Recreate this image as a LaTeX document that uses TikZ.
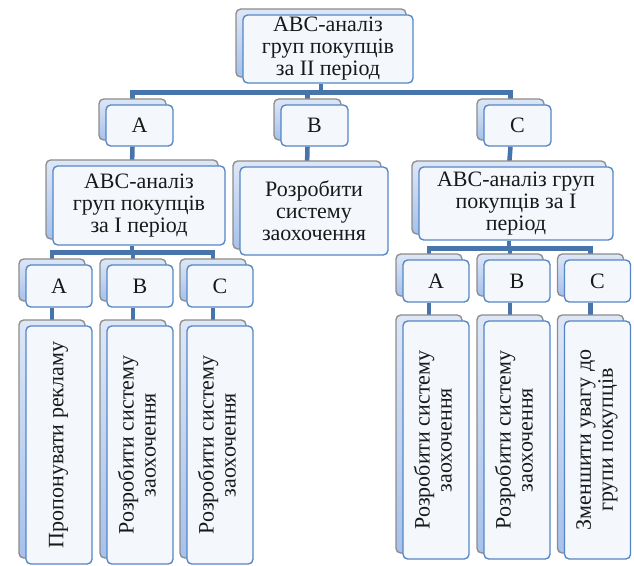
\documentclass[tikz,border=0pt]{standalone}
\usepackage{fontspec}
\setmainfont{Liberation Serif}
\usepackage{graphicx}
\usetikzlibrary{shadows,backgrounds}
\definecolor{conncol}{RGB}{72,116,172}
\definecolor{frontline}{RGB}{84,134,198}
\definecolor{frontfill}{RGB}{244,247,252}
\definecolor{backline}{RGB}{140,140,140}
\definecolor{backtop}{RGB}{222,231,246}
\definecolor{backbot}{RGB}{166,193,236}
\tikzset{
  box/.style={draw=frontline, line width=1pt, rounded corners=3.5pt, fill=frontfill,
    align=center, inner sep=0.5pt, text=black!90,
    font=\fontsize{16.5}{16.5}\selectfont,
    general shadow={shadow xshift=-5.25pt, shadow yshift=4.5pt, draw=backline,
      line width=1pt, top color=backtop, bottom color=backbot}},
  conn/.style={draw=conncol, line width=3.4pt}
}
\newcommand{\vtext}[1]{\rotatebox{90}{\begin{tabular}{@{}c@{}}#1\end{tabular}}}
\begin{document}
\begin{tikzpicture}[x=0.75pt,y=-0.75pt]
\useasboundingbox (0,0) rectangle (634,566);
% level 1
\node[box, minimum width=127.5pt, minimum height=51pt] (top) at (328,49) {АВС-аналіз\\груп покупців\\за II період};
% level 2
\node[box, minimum width=50.25pt, minimum height=30.75pt] (A2) at (139.5,125.5) {A};
\node[box, minimum width=50.25pt, minimum height=30.75pt] (B2) at (314.5,125.5) {B};
\node[box, minimum width=50.25pt, minimum height=30.75pt] (C2) at (517.5,125.5) {C};
% level 3
\node[box, minimum width=129pt, minimum height=59.25pt] (L) at (139,205.5) {АВС-аналіз\\груп покупців\\за I період};
\node[box, minimum width=111pt, minimum height=66pt] (BB) at (314,211) {Розробити\\систему\\заохочення};
\node[box, minimum width=145.5pt, minimum height=54.75pt] (R) at (516,203.5) {АВС-аналіз груп\\покупців за I\\період};
% level 4 left
\node[box, minimum width=49.5pt, minimum height=31.5pt] (LA) at (59,286) {A};
\node[box, minimum width=49.5pt, minimum height=31.5pt] (LB) at (140,286) {B};
\node[box, minimum width=49.5pt, minimum height=31.5pt] (LC) at (220,286) {C};
% level 4 right
\node[box, minimum width=49.5pt, minimum height=31.5pt] (RA) at (436,281) {A};
\node[box, minimum width=49.5pt, minimum height=31.5pt] (RB) at (517,281) {B};
\node[box, minimum width=49.5pt, minimum height=31.5pt] (RC) at (597.5,281) {C};
% leaves left
\node[box, minimum width=49.5pt, minimum height=178.5pt] (LA5) at (59,445) {\vtext{Пропонувати рекламу}};
\node[box, minimum width=49.5pt, minimum height=178.5pt] (LB5) at (140,445) {\vtext{Розробити систему\\заохочення}};
\node[box, minimum width=49.5pt, minimum height=178.5pt] (LC5) at (220,445) {\vtext{Розробити систему\\заохочення}};
% leaves right
\node[box, minimum width=49.5pt, minimum height=178.5pt] (RA5) at (436,440) {\vtext{Розробити систему\\заохочення}};
\node[box, minimum width=49.5pt, minimum height=178.5pt] (RB5) at (517,440) {\vtext{Розробити систему\\заохочення}};
\node[box, minimum width=49.5pt, minimum height=178.5pt] (RC5) at (597.5,440) {\vtext{Зменшити увагу до\\групи покупців}};
% connectors
\begin{scope}[on background layer]
\foreach \c in {A2,B2,C2}
  \draw[conn] ([xshift=-5.25pt]top.south) -- ++(0,9) -| ([xshift=-5.25pt]\c.north);
\draw[conn] ([xshift=-5.25pt]A2.south) -- ([xshift=-5.25pt]L.north);
\draw[conn] ([xshift=-5.25pt]B2.south) -- ([xshift=-5.25pt]BB.north);
\draw[conn] ([xshift=-5.25pt]C2.south) -- ([xshift=-5.25pt]R.north);
\foreach \c in {LA,LB,LC}
  \draw[conn] ([xshift=-5.25pt]L.south) -- ++(0,7) -| ([xshift=-5.25pt]\c.north);
\foreach \c in {RA,RB,RC}
  \draw[conn] ([xshift=-5.25pt]R.south) -- ++(0,8) -| ([xshift=-5.25pt]\c.north);
\foreach \c in {LA,LB,LC,RA,RB,RC}
  \draw[conn] ([xshift=-5.25pt]\c.south) -- ([xshift=-5.25pt]\c5.north);
\end{scope}
\end{tikzpicture}
\end{document}
